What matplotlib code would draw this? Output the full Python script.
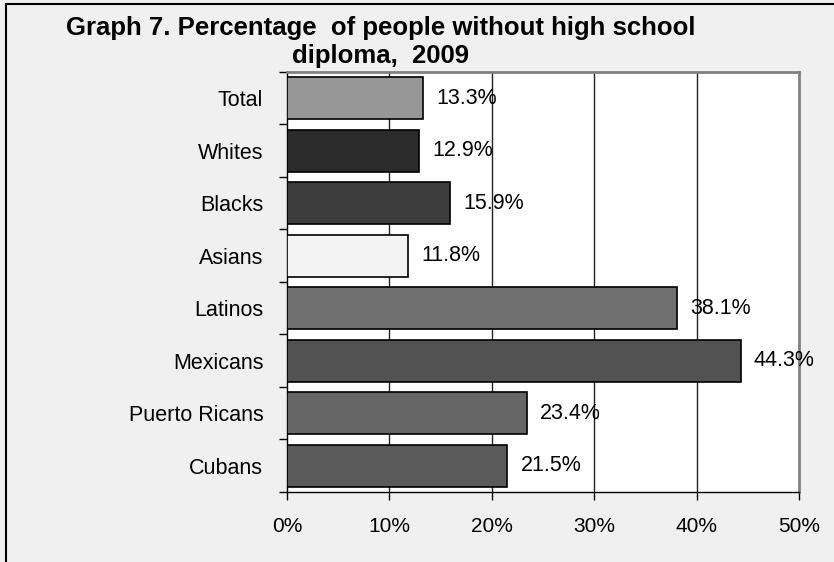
import matplotlib
matplotlib.use("Agg")
import matplotlib.pyplot as plt
from matplotlib.lines import Line2D

plt.rcParams['font.family'] = ['Liberation Sans', 'DejaVu Sans']

# data
groups = ['Total', 'Whites', 'Blacks', 'Asians', 'Latinos', 'Mexicans',
          'Puerto Ricans', 'Cubans']
pct = [13.3, 12.9, 15.9, 11.8, 38.1, 44.3, 23.4, 21.5]
bar_colors = ['#979797', '#2b2b2b', '#3d3d3d', '#f3f3f3', '#707070',
              '#525252', '#666666', '#5a5a5a']
xticks = [0, 10, 20, 30, 40, 50]

fig = plt.figure(figsize=(8.34, 5.62), dpi=100)
fig.set_facecolor('#f0f0f0')
ax = fig.add_axes([0.344, 0.1246, 0.614, 0.7473])
ax.set_facecolor('white')

ypos = list(range(len(groups)))
ax.barh(ypos, pct, height=0.8, color=bar_colors, edgecolor='black',
        linewidth=1.2, zorder=3)

# value labels
for y, v in zip(ypos, pct):
    ax.text(v + 1.3, y, f'{v}%', va='center', ha='left', fontsize=15.5,
            zorder=4)

ax.set_xlim(0, 50)
ax.set_ylim(len(groups) - 0.5, -0.5)
ax.set_xticks(xticks)
ax.set_xticklabels([f'{t}%' for t in xticks], fontsize=15)
ax.tick_params(axis='x', direction='out', length=6, width=1, pad=12)

# y labels sit between boundary ticks
ax.set_yticks(ypos)
ax.set_yticklabels(groups, fontsize=15.5)
ax.tick_params(axis='y', length=0, pad=17)
ax.set_yticks([i - 0.5 for i in range(len(groups) + 1)], minor=True)
ax.tick_params(axis='y', which='minor', direction='out', length=6, width=1)

# vertical gridlines
for t in xticks[1:-1]:
    ax.axvline(t, color='#222222', linewidth=1, zorder=1)

ax.spines['left'].set_color('black')
ax.spines['bottom'].set_color('black')
ax.spines['top'].set_color('#808080')
ax.spines['right'].set_color('#808080')
ax.spines['top'].set_linewidth(2)
ax.spines['right'].set_linewidth(2)
ax.spines['left'].set_linewidth(1)
ax.spines['bottom'].set_linewidth(1)

fig.text(0.456, 0.972, 'Graph 7. Percentage  of people without high school\ndiploma,  2009',
         ha='center', va='top', fontsize=18.5, fontweight='bold', linespacing=1.2)

# outer frame (top and left only)
fig.add_artist(Line2D([6 / 834, 1], [1 - 4 / 562, 1 - 4 / 562],
                      transform=fig.transFigure, color='black', linewidth=1.5))
fig.add_artist(Line2D([6 / 834, 6 / 834], [0, 1 - 4 / 562],
                      transform=fig.transFigure, color='black', linewidth=1.5))

fig.savefig('out.png', dpi=100, facecolor=fig.get_facecolor())
